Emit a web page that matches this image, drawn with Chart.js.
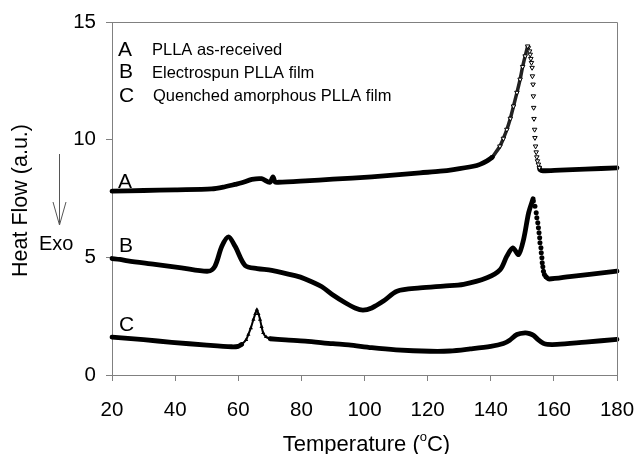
<!DOCTYPE html>
<html>
<head>
<meta charset="utf-8">
<script src="https://cdn.jsdelivr.net/npm/chart.js@4/dist/chart.umd.min.js"></script>
<style>
html,body{margin:0;padding:0;background:#fff;}
canvas{display:block;}
</style>
</head>
<body>
<canvas id="c" width="636" height="454"></canvas>
<script>
// ---- Data ----
// Curve A: PLLA as-received
const tempA1 = [20, 30, 40, 51.6, 55.8, 59, 61.1, 64.3, 67.4, 70, 71, 71.7, 72.7, 81.2, 90, 102.3, 110, 117.6, 124, 128.2, 134.5, 136.6, 138.7, 140.5];
const heatA1 = [7.81, 7.84, 7.87, 7.91, 8.0, 8.1, 8.17, 8.31, 8.34, 8.19, 8.42, 8.2, 8.19, 8.25, 8.32, 8.42, 8.5, 8.59, 8.66, 8.73, 8.87, 8.95, 9.09, 9.25];
const tempARise = [140.5, 142.9, 144, 145.1, 146.2, 147.2, 148.3, 149.3, 150.1, 150.9, 151.7];
const heatARise = [9.25, 9.72, 10.05, 10.43, 10.9, 11.42, 12.0, 12.56, 13.1, 13.55, 13.97];
const tempAFall = [151.9, 152.3, 152.5, 152.7, 152.9, 153.1, 153.2, 153.4, 153.5, 153.6, 153.7, 153.9, 154.0, 154.2, 154.4, 154.6, 154.8, 155.1, 155.4];
const heatAFall = [13.9, 13.76, 13.62, 13.44, 13.27, 13.06, 12.7, 12.35, 11.85, 11.36, 10.89, 10.43, 10.08, 9.72, 9.47, 9.26, 9.09, 8.95, 8.81];
const tempA2 = [155.4, 155.6, 156.5, 162, 170, 180];
const heatA2 = [8.81, 8.72, 8.68, 8.71, 8.75, 8.8];

// Curve B: Electrospun PLLA film
const tempB1 = [20, 22.5, 25, 33.6, 42, 50.5, 52.6, 54.8, 56.9, 59, 62.2, 66, 70.6, 78, 81.2, 86.5, 90, 93.9, 97, 99.5, 102.3, 106, 110.3, 117.6, 125, 131.4, 138.8, 143, 145.1, 147, 148.8, 150.4, 152, 153.4];
const heatB1 = [4.95, 4.91, 4.85, 4.70, 4.55, 4.41, 4.62, 5.47, 5.87, 5.47, 4.65, 4.52, 4.45, 4.22, 4.08, 3.75, 3.4, 3.07, 2.85, 2.76, 2.85, 3.14, 3.56, 3.7, 3.78, 3.85, 4.13, 4.48, 5.05, 5.4, 5.12, 5.76, 6.89, 7.49];
const tempBFall = [153.5, 154.0, 154.4, 154.6, 154.9, 155.1, 155.3, 155.5, 155.6, 155.9, 156.0, 156.2, 156.3, 156.5, 156.7, 157.0, 157.5];
const heatBFall = [7.39, 7.17, 6.89, 6.68, 6.47, 6.26, 6.04, 5.83, 5.62, 5.41, 5.19, 4.98, 4.77, 4.6, 4.41, 4.27, 4.17];
const tempB2 = [157.5, 158.5, 165, 172, 180];
const heatB2 = [4.17, 4.08, 4.18, 4.29, 4.41];

// Curve C: Quenched amorphous PLLA film
const tempC1 = [20, 30, 38.9, 50, 57.9, 60, 61.1];
const heatC1 = [1.61, 1.5, 1.39, 1.27, 1.2, 1.22, 1.3];
const tempCPeak = [61.1, 62.5, 63.2, 64, 64.8, 65.4, 65.9, 66.4, 66.9, 67.4, 67.9, 68.8, 70.1];
const heatCPeak = [1.3, 1.5, 1.72, 2.0, 2.36, 2.6, 2.78, 2.6, 2.36, 2.05, 1.79, 1.62, 1.54];
const tempC2 = [70.1, 75, 81.2, 90, 95, 102.3, 110, 120.8, 127, 133.5, 140, 144, 146, 148.3, 150.9, 152.3, 153.6, 155, 156.7, 158, 161, 170, 180];
const heatC2 = [1.54, 1.49, 1.44, 1.33, 1.28, 1.16, 1.07, 1.01, 1.02, 1.11, 1.22, 1.34, 1.48, 1.72, 1.79, 1.76, 1.68, 1.5, 1.34, 1.3, 1.3, 1.4, 1.51];

const xTicks = [20, 40, 60, 80, 100, 120, 140, 160, 180];
const yTicks = [0, 5, 10, 15];

const curveLabels = ['A', 'B', 'C'];
const legendNames = ['PLLA as-received', 'Electrospun PLLA film', 'Quenched amorphous PLLA film'];
const xTitle = 'Temperature (';
const yTitle = 'Heat Flow (a.u.)';

// ---- Build ----
const FONT = '"Liberation Sans", Arial, sans-serif';
function pts(xs, ys){ return xs.map((x,i)=>({x:x, y:ys[i]})); }
function lineDS(xs, ys, w){
  return {data: pts(xs, ys), showLine:true, borderColor:'#000', borderWidth:w||4.8, pointRadius:0, tension:0.3, clip:false, borderCapStyle:'round', borderJoinStyle:'round'};
}

const datasets = [
  lineDS(tempA1, heatA1),
  {data: pts(tempARise, heatARise), showLine:true, borderColor:'#222', borderWidth:3.5, tension:0.3,
   pointStyle:'triangle', rotation:180, pointRadius:2.6, pointBackgroundColor:'#fff', pointBorderColor:'#000', pointBorderWidth:1, clip:false},
  {data: pts(tempAFall, heatAFall), showLine:false,
   pointStyle:'triangle', rotation:180, pointRadius:2.6, pointBackgroundColor:'#fff', pointBorderColor:'#000', pointBorderWidth:1, clip:false},
  lineDS(tempA2, heatA2),
  lineDS(tempB1, heatB1),
  {data: pts(tempBFall, heatBFall), showLine:false, pointStyle:'circle', pointRadius:2.5, pointBackgroundColor:'#000', pointBorderColor:'#000', pointBorderWidth:0, clip:false},
  lineDS(tempB2, heatB2),
  lineDS(tempC1, heatC1),
  {data: pts(tempCPeak, heatCPeak), showLine:true, borderColor:'#000', borderWidth:2, tension:0.3,
   pointStyle:'triangle', pointRadius:2.4, pointBackgroundColor:'#000', pointBorderColor:'#000', pointBorderWidth:0, clip:false},
  lineDS(tempC2, heatC2)
];

const overlay = {
  id:'overlay',
  afterDraw(chart){
    const c = chart.ctx, a = chart.chartArea;
    c.save();
    // top & right frame
    c.strokeStyle = '#808080'; c.lineWidth = 1;
    c.beginPath();
    c.moveTo(a.left, a.top + 0.5); c.lineTo(a.right + 0.5, a.top + 0.5); c.lineTo(a.right + 0.5, a.bottom);
    c.stroke();
    c.fillStyle = '#000';
    // Y title
    c.save();
    c.font = '21.5px ' + FONT;
    c.textAlign = 'center'; c.textBaseline = 'middle';
    c.translate(21, (a.top + a.bottom) / 2 + 2);
    c.rotate(-Math.PI / 2);
    c.fillText(yTitle, 0, 0);
    c.restore();
    // X title with superscript o
    const big = '22px ' + FONT, small = '13px ' + FONT;
    c.font = big;
    c.textBaseline = 'alphabetic';
    const w1 = c.measureText(xTitle).width;
    c.font = small;
    const wo = c.measureText('o').width;
    c.font = big;
    const w2 = c.measureText('C)').width;
    const total = w1 + wo + w2;
    let x0 = (a.left + a.right) / 2 + 2 - total / 2;
    const base = 451;
    c.textAlign = 'left';
    c.fillText(xTitle, x0, base);
    c.font = small;
    c.fillText('o', x0 + w1, base - 10);
    c.font = big;
    c.fillText('C)', x0 + w1 + wo, base);
    // Exo arrow
    c.strokeStyle = '#555'; c.lineWidth = 1;
    c.beginPath();
    c.moveTo(59.5, 154); c.lineTo(59.5, 225);
    c.moveTo(53, 202); c.lineTo(59.5, 225); c.lineTo(66, 202);
    c.stroke();
    c.font = '20px ' + FONT;
    c.textAlign = 'left'; c.textBaseline = 'alphabetic';
    c.fillText('Exo', 39, 250);
    // curve labels
    c.font = '21px ' + FONT;
    c.fillText(curveLabels[0], 118, 188);
    c.fillText(curveLabels[1], 119, 252);
    c.fillText(curveLabels[2], 119, 331);
    // legend block
    c.fillText(curveLabels[0], 118, 56);
    c.fillText(curveLabels[1], 119, 78);
    c.fillText(curveLabels[2], 119, 102);
    c.font = '16.5px ' + FONT;
    c.fillText(legendNames[0], 152, 55);
    c.fillText(legendNames[1], 152, 78);
    c.fillText(legendNames[2], 153, 101);
    c.restore();
  }
};

new Chart(document.getElementById('c'), {
  type: 'scatter',
  data: { datasets: datasets },
  options: {
    responsive: false,
    animation: false,
    devicePixelRatio: 1,
    layout: { padding: { top: 22, right: 19, left: 0, bottom: 0 } },
    plugins: { legend: { display: false }, tooltip: { enabled: false } },
    scales: {
      x: {
        type: 'linear', min: 20, max: 180,
        afterBuildTicks(s){ s.ticks = xTicks.map(v => ({value: v})); },
        afterFit(s){ s.height = 79; s.paddingLeft = 0; s.paddingRight = 0; },
        ticks: { font: { size: 20.5, family: FONT }, color: '#000', padding: 17, maxRotation: 0 },
        grid: { drawOnChartArea: false, drawTicks: true, tickLength: 6, color: '#808080' },
        border: { display: true, color: '#808080' }
      },
      y: {
        type: 'linear', min: 0, max: 15,
        afterBuildTicks(s){ s.ticks = yTicks.map(v => ({value: v})); },
        afterFit(s){ s.width = 112; s.paddingTop = 0; s.paddingBottom = 0; },
        ticks: { font: { size: 20.5, family: FONT }, color: '#000', padding: 10 },
        grid: { drawOnChartArea: false, drawTicks: true, tickLength: 6, color: '#808080' },
        border: { display: true, color: '#808080' }
      }
    }
  },
  plugins: [overlay]
});
</script>
</body>
</html>
